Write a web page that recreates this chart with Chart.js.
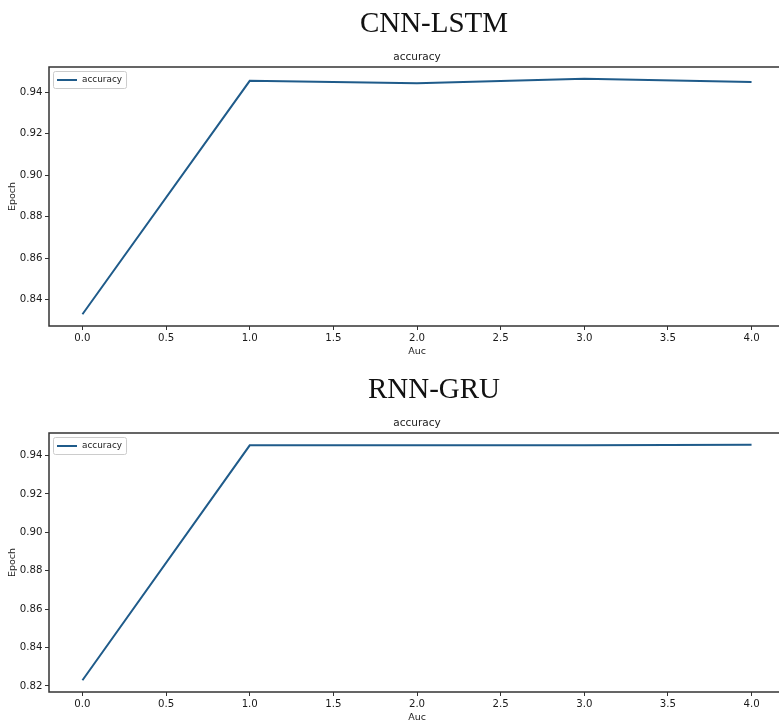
<!DOCTYPE html>
<html>
<head>
<meta charset="utf-8">
<script src="https://cdn.jsdelivr.net/npm/chart.js@4/dist/chart.umd.min.js"></script>
<style>
  html, body { margin: 0; padding: 0; background: #fff; overflow: hidden; width: 779px; height: 721px; }
  .wrap { position: absolute; left: 0; width: 785px; height: 362px; }
  .heading { position: absolute; left: 334px; width: 200px; text-align: center;
             font-family: "Liberation Serif", "DejaVu Serif", serif; font-size: 29px; color: #111;
             line-height: 34px; height: 34px; }
  canvas { position: absolute; left: 0; top: 0; }
</style>
</head>
<body>
<div class="wrap" style="top:0px"><canvas id="c1" width="785" height="362"></canvas></div>
<div class="wrap" style="top:366px"><canvas id="c2" width="785" height="362"></canvas></div>
<div class="heading" style="top:5px">CNN-LSTM</div>
<div class="heading" style="top:371px">RNN-GRU</div>
<script>
// ---- data ----
const epochs = [0, 1, 2, 3, 4];
const cnnLstmAccuracy = [0.833, 0.9455, 0.9443, 0.9465, 0.9450];
const rnnGruAccuracy = [0.823, 0.9453, 0.9453, 0.9454, 0.9456];
const xTickValues = [0.0, 0.5, 1.0, 1.5, 2.0, 2.5, 3.0, 3.5, 4.0];
const yTicksCnnLstm = [0.84, 0.86, 0.88, 0.90, 0.92, 0.94];
const yTicksRnnGru = [0.82, 0.84, 0.86, 0.88, 0.90, 0.92, 0.94];
const seriesLabel = "accuracy";
const xTitle = "Auc";
const yTitle = "Epoch";

const LINE_COLOR = '#1f5b8a';
const AXIS_COLOR = '#333333';
const TEXT_COLOR = '#1a1a1a';
const SANS = '"DejaVu Sans", sans-serif';

const framePlugin = {
  id: 'frame',
  afterDraw(chart) {
    const {ctx, chartArea: a} = chart;
    ctx.save();
    ctx.strokeStyle = AXIS_COLOR;
    ctx.lineWidth = 1.5;
    ctx.strokeRect(a.left, a.top, a.right - a.left, a.bottom - a.top);
    ctx.restore();
  }
};

// legend drawn inside the axes, upper-left, like matplotlib
const innerLegendPlugin = {
  id: 'innerLegend',
  afterDatasetsDraw(chart) {
    const {ctx, chartArea: a} = chart;
    const ds = chart.data.datasets[0];
    ctx.save();
    ctx.font = '8.9px ' + SANS;
    const tw = ctx.measureText(ds.label).width;
    const x = a.left + 4, y = a.top + 4;
    const w = 30 + tw + 3, h = 17;
    ctx.fillStyle = 'rgba(255,255,255,0.9)';
    ctx.strokeStyle = '#cccccc';
    ctx.lineWidth = 1;
    ctx.beginPath();
    if (ctx.roundRect) ctx.roundRect(x + 0.5, y + 0.5, w, h, 2); else ctx.rect(x + 0.5, y + 0.5, w, h);
    ctx.fill();
    ctx.stroke();
    const cy = y + h / 2 + 0.5;
    ctx.strokeStyle = ds.borderColor;
    ctx.lineWidth = 2;
    ctx.beginPath();
    ctx.moveTo(x + 4, cy);
    ctx.lineTo(x + 24, cy);
    ctx.stroke();
    ctx.fillStyle = TEXT_COLOR;
    ctx.textBaseline = 'middle';
    ctx.textAlign = 'left';
    ctx.fillText(ds.label, x + 29, cy);
    ctx.restore();
  }
};

function bounds(values) {
  const lo = Math.min(...values), hi = Math.max(...values);
  const m = (hi - lo) * 0.05;
  return [lo - m, hi + m];
}

function makeChart(id, values, yTicks) {
  const [ymin, ymax] = bounds(values);
  const [xmin, xmax] = bounds(epochs);
  return new Chart(document.getElementById(id), {
    type: 'line',
    data: {
      datasets: [{
        label: seriesLabel,
        data: epochs.map((e, i) => ({x: e, y: values[i]})),
        borderColor: LINE_COLOR,
        backgroundColor: LINE_COLOR,
        borderWidth: 2,
        pointRadius: 0,
        tension: 0,
        fill: false
      }]
    },
    options: {
      responsive: false,
      animation: false,
      devicePixelRatio: 1,
      layout: { padding: 0 },
      plugins: {
        title: {
          display: true,
          text: seriesLabel,
          fullSize: false,
          color: TEXT_COLOR,
          font: { family: SANS, size: 10.5, weight: 'normal', lineHeight: 1.2 },
          padding: { top: 50.7, bottom: 3.7 }
        },
        legend: { display: false },
        tooltip: { enabled: false }
      },
      scales: {
        x: {
          type: 'linear',
          min: xmin,
          max: xmax,
          afterBuildTicks(scale) { scale.ticks = xTickValues.map(v => ({value: v})); },
          afterFit(scale) { scale.height = 36; },
          grid: { display: true, drawOnChartArea: false, drawTicks: true, tickLength: 4, color: AXIS_COLOR, tickWidth: 1 },
          border: { display: false },
          ticks: { color: TEXT_COLOR, font: { family: SANS, size: 10.2 }, padding: 2, maxRotation: 0,
                   callback: v => Number(v).toFixed(1) },
          title: { display: true, text: xTitle, color: TEXT_COLOR, font: { family: SANS, size: 9.5, lineHeight: 1.2 },
                   padding: { top: 0, bottom: 5 } }
        },
        y: {
          type: 'linear',
          min: ymin,
          max: ymax,
          afterBuildTicks(scale) { scale.ticks = yTicks.map(v => ({value: v})); },
          afterFit(scale) { scale.width = 49; },
          grid: { display: true, drawOnChartArea: false, drawTicks: true, tickLength: 4, color: AXIS_COLOR, tickWidth: 1 },
          border: { display: false },
          ticks: { color: TEXT_COLOR, font: { family: SANS, size: 10.2 }, padding: 2.5,
                   callback: v => Number(v).toFixed(2) },
          title: { display: true, text: yTitle, color: TEXT_COLOR, font: { family: SANS, size: 9.5, lineHeight: 1.2 },
                   padding: { top: 7, bottom: 0 } }
        }
      }
    },
    plugins: [framePlugin, innerLegendPlugin]
  });
}

makeChart('c1', cnnLstmAccuracy, yTicksCnnLstm);
makeChart('c2', rnnGruAccuracy, yTicksRnnGru);
</script>
</body>
</html>
